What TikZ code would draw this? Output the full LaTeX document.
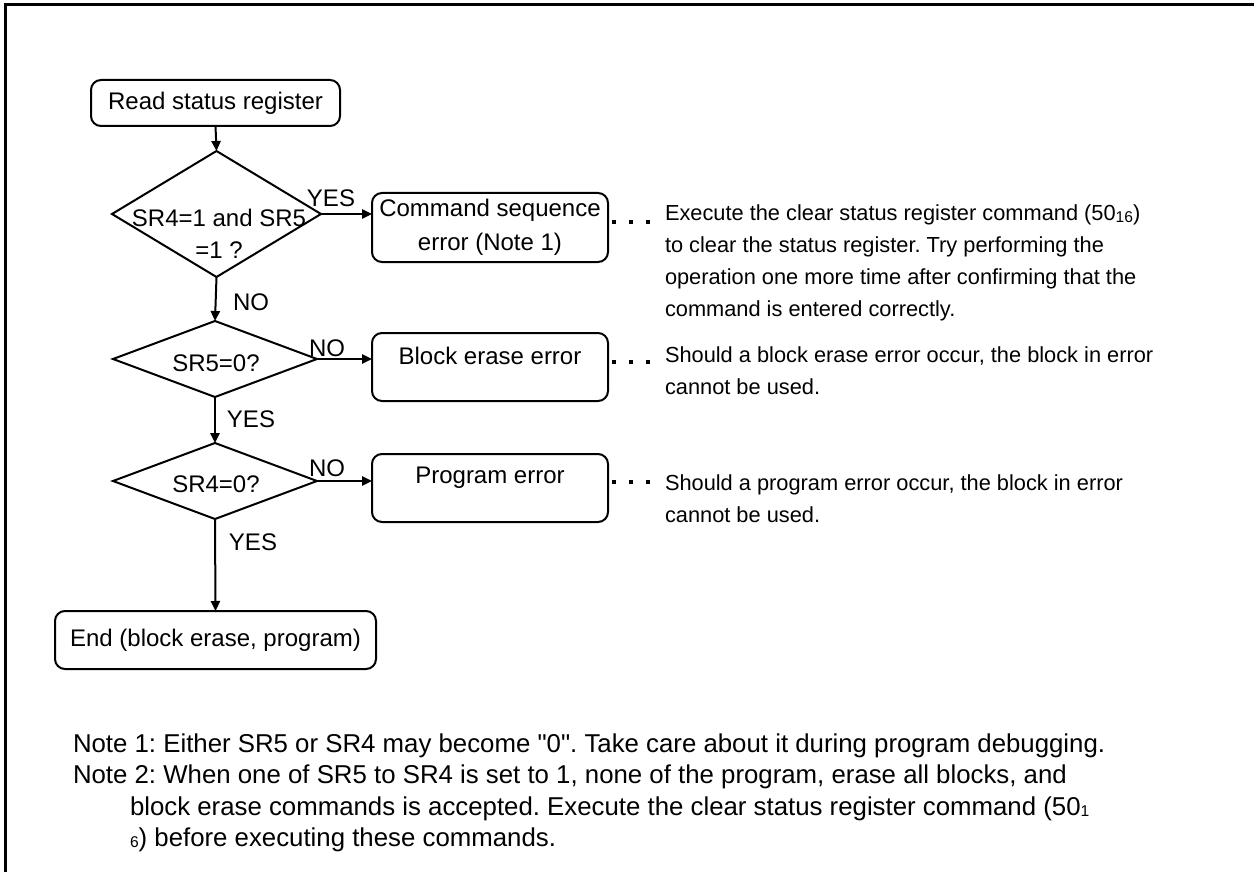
\documentclass[tikz,border=0pt]{standalone}
\usepackage{fontspec}
\setmainfont{Liberation Sans}
\newfontfamily\arialf{Liberation Sans}
\usetikzlibrary{shapes.geometric,arrows.meta}
\newcommand{\subsm}[1]{\raisebox{-0.1ex}{\fontsize{7.8}{7.8}\selectfont #1}}
\frenchspacing
\begin{document}
\begin{tikzpicture}[x=0.5pt,y=-0.5pt,
  every node/.style={font=\fontsize{12}{14}\selectfont, inner sep=0pt, outer sep=0pt},
  term/.style={draw, line width=1pt, rounded corners=5pt},
  dec/.style={draw, line width=1pt, diamond},
  arr/.style={line width=1pt, -{Triangle[length=5pt,width=4.6pt]}},
  dotline/.style={line width=2pt, dash pattern=on 2pt off 6.5pt},
  side/.style={font=\fontsize{10.9}{15.85}\selectfont, align=left, anchor=base west},
  notesty/.style={font=\arialf\fontsize{12.9}{15.5}\selectfont\frenchspacing, align=left, anchor=base west},
  lbl/.style={anchor=center}]
\useasboundingbox (0,0) rectangle (1254,872);
\draw[line width=1.5pt] (5,872) -- (5,5) -- (1254,5);

% flowchart nodes
\node[term, minimum width=124.5pt, minimum height=23pt] (read) at (215.5,103) {Read status register};
\node[dec, minimum width=104.5pt, minimum height=63pt] (d1) at (216.5,214) {};
\node[align=center, font=\fontsize{12}{16}\selectfont] (d1t) at (219,234) {SR4=1 and SR5\\=1 ?};
\node[dec, minimum width=102pt, minimum height=38pt] (d2) at (215,359) {};
\node (d2t) at (216,363) {SR5=0?};
\node[dec, minimum width=102pt, minimum height=38pt] (d3) at (215,481) {};
\node (d3t) at (216,484) {SR4=0?};
\node[term, minimum width=160.5pt, minimum height=29pt] (end) at (215.5,640) {End (block erase, program)};

\node[term, minimum width=118pt, minimum height=34.5pt, align=center, font=\fontsize{12}{17}\selectfont] (cmd) at (490,227.5) {Command sequence\\error (Note 1)};
\node[term, minimum width=118pt, minimum height=34pt] (blk) at (490,367) {};
\node (blkt) at (490,356) {Block erase error};
\node[term, minimum width=118pt, minimum height=34pt] (prg) at (490,488) {};
\node (prgt) at (490,478) {Program error};

% connectors
\draw[arr] (read.south) -- (d1.north);
\draw[arr] (d1.east) -- (d1.east -| cmd.west);
\draw[arr] (d1.south) -- (d2.north);
\draw[arr] (d2.east) -- (d2.east -| blk.west);
\draw[arr] (d2.south) -- (d3.north);
\draw[arr] (d3.east) -- (d3.east -| prg.west);
\draw[arr] (d3.south) -- (end.north);

% labels
\node[lbl] (l1) at (331,198) {YES};
\node[lbl] (l2) at (251,302) {NO};
\node[lbl] (l3) at (327,348) {NO};
\node[lbl] (l4) at (251,419) {YES};
\node[lbl] (l5) at (327,468) {NO};
\node[lbl] (l6) at (253,542) {YES};

% side notes (anchor = baseline of last line)
\node[side] (n1) at (665,316) {Execute the clear status register command (50\subsm{16})\\to clear the status register. Try performing the\\operation one more time after confirming that the\\command is entered correctly.};
\node[side] (n2) at (665,394) {Should a block erase error occur, the block in error\\cannot be used.};
\node[side] (n3) at (665,522) {Should a program error occur, the block in error\\cannot be used.};

\draw[dotline] ([shift={(4,-5)}]cmd.east) -- ([shift={(42,-5)}]cmd.east);
\draw[dotline] ([shift={(4,-5)}]blk.east) -- ([shift={(42,-5)}]blk.east);
\draw[dotline] ([shift={(4,-6)}]prg.east) -- ([shift={(42,-6)}]prg.east);

% notes
\node[notesty] (note1) at (73,752) {Note 1: Either SR5 or SR4 may become "0". Take care about it during program debugging.};
\node[notesty] (note2) at (73,783) {Note 2: When one of SR5 to SR4 is set to 1, none of the program, erase all blocks, and};
\node[notesty] (note2b) at (130,846) {block erase commands is accepted. Execute the clear status register command (50\subsm{1}\\\subsm{6}) before executing these commands.};
\end{tikzpicture}
\end{document}
